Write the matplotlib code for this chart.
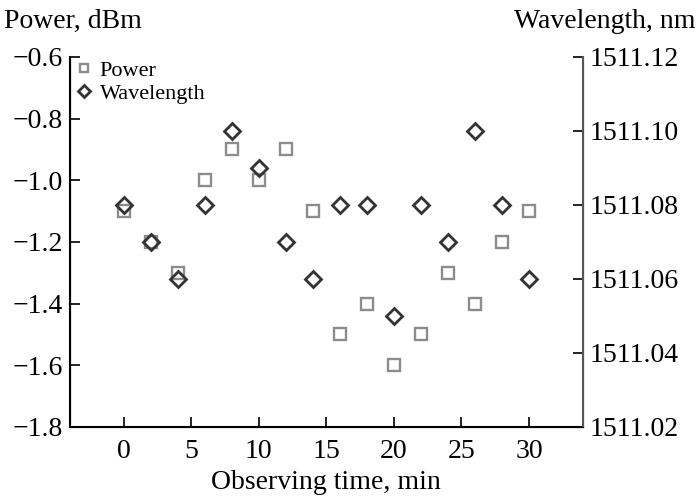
import numpy as np
import matplotlib.pyplot as plt

plt.rcParams['font.family'] = ['Liberation Serif', 'DejaVu Serif']

# Data
time_min = [0, 2, 4, 6, 8, 10, 12, 14, 16, 18, 20, 22, 24, 26, 28, 30]
power_dbm = [-1.1, -1.2, -1.3, -1.0, -0.9, -1.0, -0.9, -1.1,
             -1.5, -1.4, -1.6, -1.5, -1.3, -1.4, -1.2, -1.1]
wavelength_nm = [1511.08, 1511.07, 1511.06, 1511.08, 1511.10, 1511.09,
                 1511.07, 1511.06, 1511.08, 1511.08, 1511.05, 1511.08,
                 1511.07, 1511.10, 1511.08, 1511.06]

power_ticks = [-1.8, -1.6, -1.4, -1.2, -1.0, -0.8, -0.6]
wl_ticks = [1511.02, 1511.04, 1511.06, 1511.08, 1511.10, 1511.12]
x_ticks = [0, 5, 10, 15, 20, 25, 30]

fig = plt.figure(figsize=(6.99, 4.98), dpi=100)
ax = fig.add_axes([0.0995, 0.1426, 0.7345, 0.743])
ax2 = ax.twinx()

sq, = ax.plot(time_min, power_dbm, linestyle='none', marker='s', markersize=8,
              markerfacecolor='white', markeredgecolor='#8c8c8c',
              markeredgewidth=1.7, label='Power')
dm, = ax2.plot(time_min, wavelength_nm, linestyle='none', marker='D', markersize=8,
               markerfacecolor='none', markeredgecolor='#333333',
               markeredgewidth=2.0, label='Wavelength')

ax.set_xlim(-4, 34)
ax.set_ylim(-1.8, -0.6)
ax2.set_ylim(1511.02, 1511.12)
ax.set_xticks(x_ticks)
ax.set_yticks(power_ticks)
ax.set_yticklabels(['\u2212%.1f' % abs(v) for v in power_ticks])
ax2.set_yticks(wl_ticks)
ax2.set_yticklabels(['%.2f' % v for v in wl_ticks])

for a in (ax, ax2):
    a.spines['top'].set_visible(False)
    a.tick_params(direction='in', length=7, width=1.2, labelsize=20, pad=5)
ax.spines['left'].set_linewidth(1.5)
ax.spines['bottom'].set_linewidth(1.5)
ax2.spines['right'].set_linewidth(1.5)
ax2.spines['right'].set_color('#555555')
ax.tick_params(axis='x', pad=9)

ax.set_xlabel('Observing time, min', fontsize=20, labelpad=4)
fig.text(0.006, 0.944, 'Power, dBm', fontsize=20, ha='left', va='baseline')
fig.text(0.995, 0.944, 'Wavelength, nm', fontsize=20, ha='right', va='baseline')

ax.legend(handles=[sq, dm], loc='upper left', frameon=False, fontsize=16,
          handletextpad=0.2, borderaxespad=0.05, labelspacing=0.1,
          handlelength=1.0, borderpad=0.1, markerscale=0.8)

fig.savefig('out.png', dpi=100)
